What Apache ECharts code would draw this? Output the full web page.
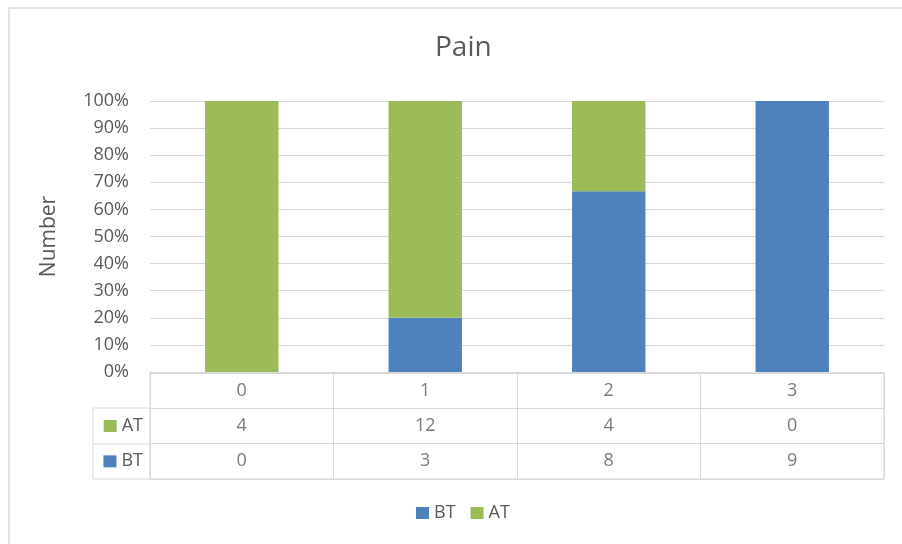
<!DOCTYPE html>
<html>
<head>
<meta charset="UTF-8">
<title>Pain</title>
<script src="https://cdn.jsdelivr.net/npm/echarts@6/dist/echarts.min.js"></script>
<style>
  html, body { margin: 0; padding: 0; background: #fff; }
  #chart { width: 902px; height: 544px; }
</style>
</head>
<body>
<div id="chart"></div>
<script type="text/javascript">
// data
var categories = ['0', '1', '2', '3'];
var btValues = [0, 3, 8, 9];
var atValues = [4, 12, 4, 0];
var yTicks = [0, 10, 20, 30, 40, 50, 60, 70, 80, 90, 100];

var blue = '#4F81BD';
var green = '#9BBB59';
var textColor = '#595959';
var lineColor = '#d9d9d9';
var font = 'Open Sans';

// 100% stacked -> share of each column
function share(arr, i) {
  var total = btValues[i] + atValues[i];
  return total ? arr[i] / total * 100 : 0;
}
var btPct = categories.map(function (c, i) { return share(btValues, i); });
var atPct = categories.map(function (c, i) { return share(atValues, i); });

// cells for the data table under the plot
var tableRows = ['BT', 'AT', 'head'];
var cells = [];
categories.forEach(function (c, i) {
  cells.push({ value: [i, 'head'], text: c });
  cells.push({ value: [i, 'AT'], text: String(atValues[i]) });
  cells.push({ value: [i, 'BT'], text: String(btValues[i]) });
});

var chart = echarts.init(document.getElementById('chart'));
var option = {
  animation: false,
  textStyle: { fontFamily: font, color: textColor },
  title: {
    text: 'Pain',
    left: 430,
    top: 29,
    textStyle: { fontFamily: font, fontSize: 28, fontWeight: 'normal', color: textColor }
  },
  legend: {
    data: ['BT', 'AT'],
    left: 416,
    top: 504,
    padding: 0,
    icon: 'rect',
    itemWidth: 13,
    itemHeight: 12,
    itemGap: 15,
    textStyle: { fontFamily: font, fontSize: 18, color: textColor }
  },
  grid: [
    { left: 150, right: 18, top: 101, height: 271 },
    { left: 150, right: 18, top: 373, height: 106, show: true, borderColor: lineColor, borderWidth: 1 }
  ],
  xAxis: [
    {
      type: 'category', gridIndex: 0, data: categories,
      axisLine: { lineStyle: { color: lineColor } },
      axisTick: { show: false },
      axisLabel: { show: false }
    },
    {
      type: 'category', gridIndex: 1, data: categories,
      axisLine: { show: false },
      axisTick: { show: false },
      axisLabel: { show: false },
      splitLine: { show: true, interval: 0, lineStyle: { color: lineColor } }
    }
  ],
  yAxis: [
    {
      type: 'value', gridIndex: 0, min: 0, max: 100, interval: 10,
      name: 'Number', nameLocation: 'middle', nameRotate: 90, nameGap: 90,
      nameTextStyle: { fontFamily: font, fontSize: 21, color: textColor },
      axisLine: { show: false },
      axisTick: { show: false },
      axisLabel: { fontFamily: font, fontSize: 18, color: textColor, margin: 21, formatter: '{value}%' },
      splitLine: { lineStyle: { color: lineColor } }
    },
    {
      type: 'category', gridIndex: 1, data: tableRows,
      axisLine: { show: false },
      axisTick: { show: false },
      splitLine: { show: true, interval: 0, lineStyle: { color: lineColor } },
      axisLabel: {
        margin: 7,
        formatter: function (v) {
          if (v === 'AT') return '{at|}{t|AT}';
          if (v === 'BT') return '{bt|}{t|BT}';
          return '';
        },
        rich: {
          at: { width: 13, height: 12, backgroundColor: green },
          bt: { width: 13, height: 12, backgroundColor: blue },
          t: { fontFamily: font, fontSize: 18, color: textColor, padding: [0, 0, 0, 5] }
        }
      }
    }
  ],
  series: [
    {
      name: 'BT', type: 'bar', stack: 'pct', xAxisIndex: 0, yAxisIndex: 0,
      barWidth: '40%', itemStyle: { color: blue }, data: btPct
    },
    {
      name: 'AT', type: 'bar', stack: 'pct', xAxisIndex: 0, yAxisIndex: 0,
      barWidth: '40%', itemStyle: { color: green }, data: atPct
    },
    {
      name: 'table', type: 'scatter', xAxisIndex: 1, yAxisIndex: 1,
      symbolSize: 0, silent: true,
      label: {
        show: true, position: 'inside',
        fontFamily: font, fontSize: 18, color: textColor,
        formatter: function (p) { return p.data.text; }
      },
      data: cells
    }
  ],
  graphic: [
    // outer chart border
    { type: 'rect', shape: { x: 9, y: 8, width: 920, height: 560 }, style: { fill: 'none', stroke: lineColor, lineWidth: 1.5 }, silent: true },
    // left column of the data table (legend keys)
    { type: 'rect', shape: { x: 93, y: 408, width: 57, height: 71 }, style: { fill: 'none', stroke: lineColor, lineWidth: 1 }, silent: true },
    { type: 'line', shape: { x1: 93, y1: 444, x2: 150, y2: 444 }, style: { stroke: lineColor, lineWidth: 1 }, silent: true }
  ]
};
chart.setOption(option);
</script>
</body>
</html>
